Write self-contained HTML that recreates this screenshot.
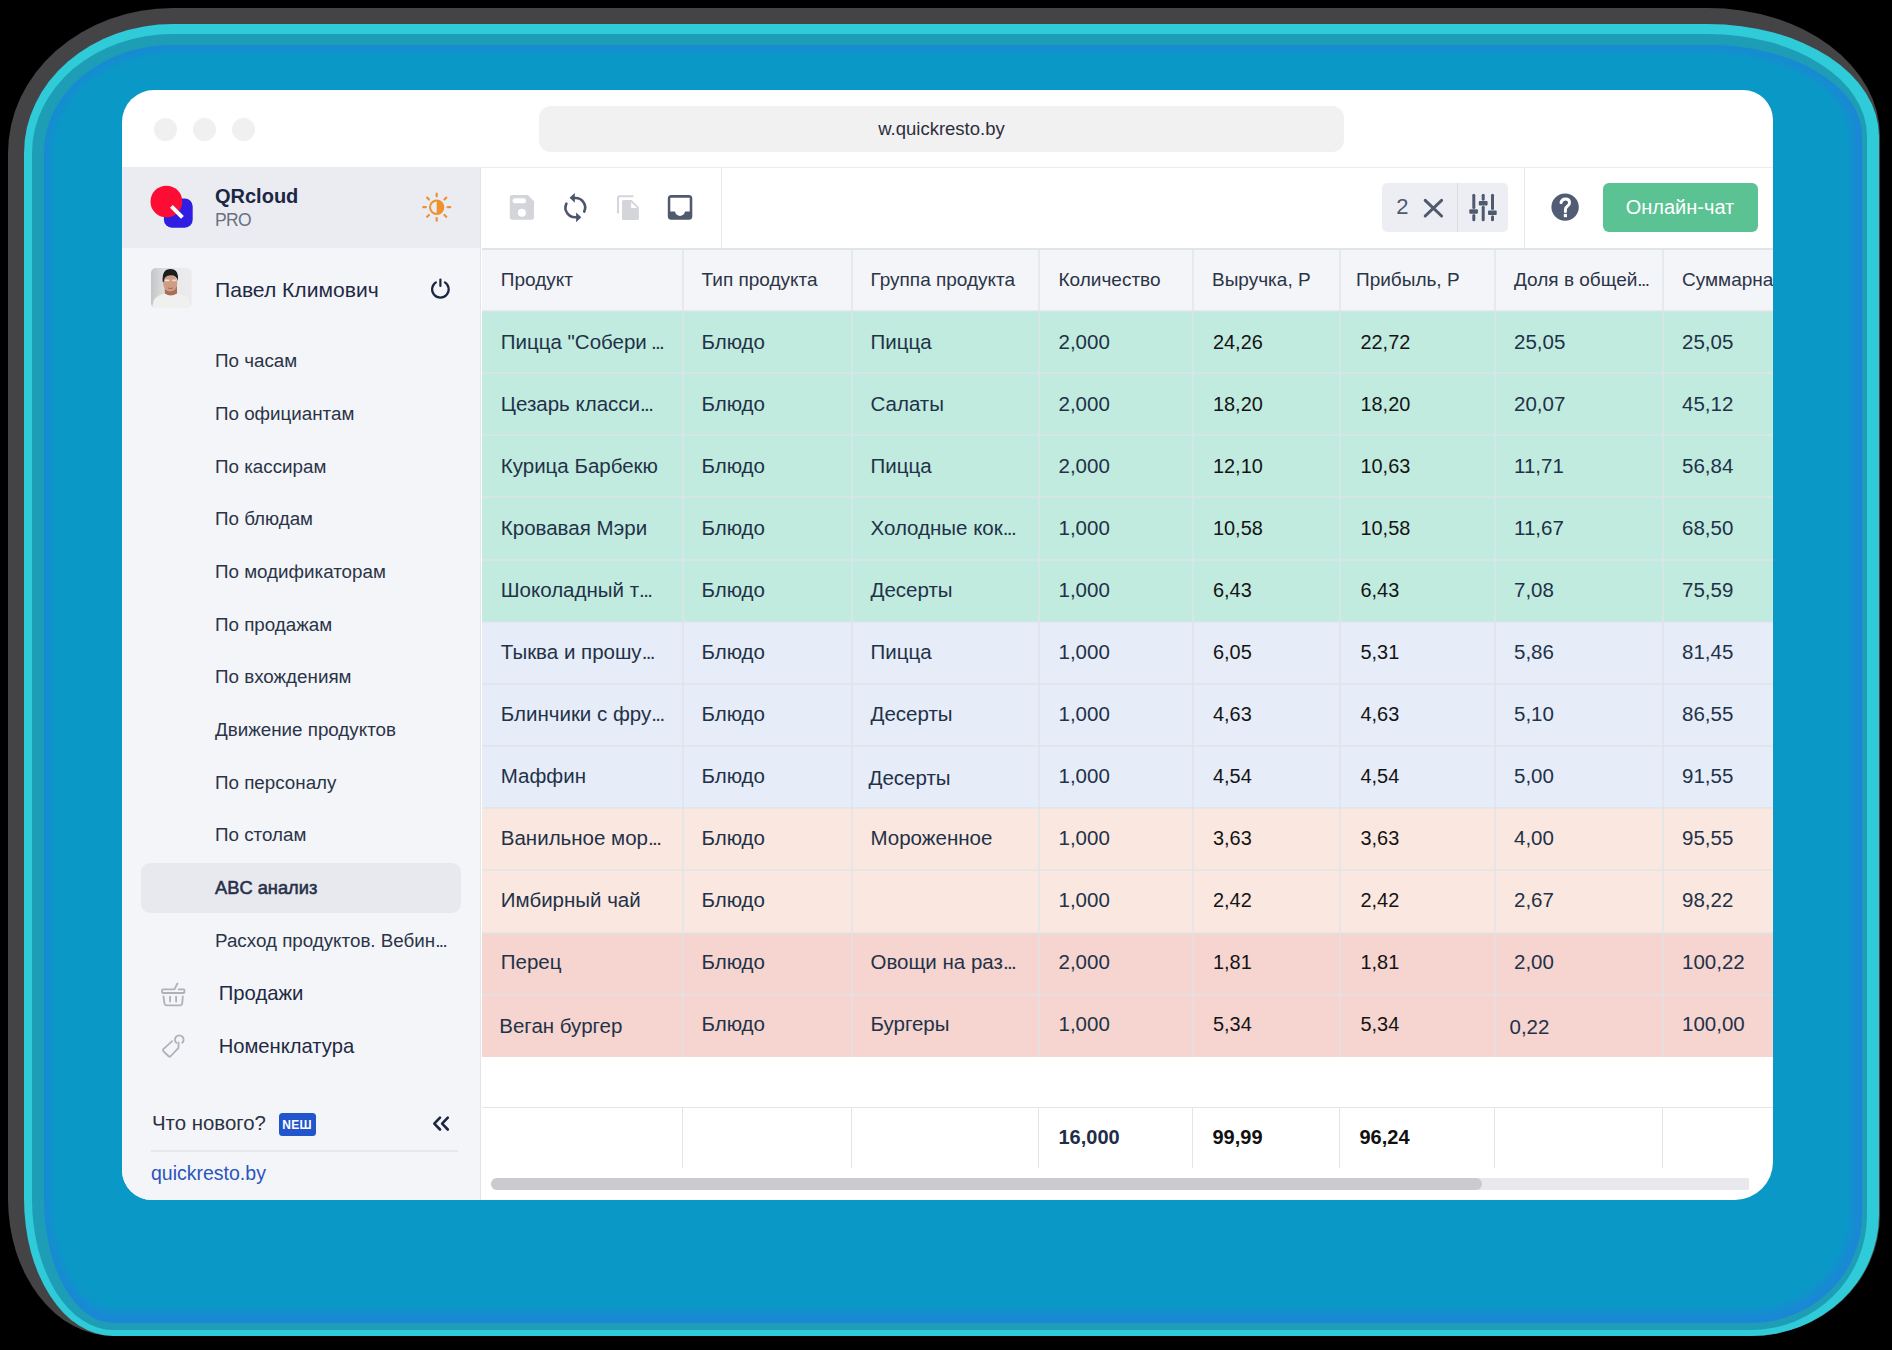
<!DOCTYPE html>
<html><head><meta charset="utf-8">
<style>
*{margin:0;padding:0;box-sizing:border-box}
html,body{width:1892px;height:1350px;background:#000;overflow:hidden}
body{font-family:"Liberation Sans",sans-serif;position:relative}
.abs{position:absolute}
#g1{position:absolute;left:8px;top:8px;width:1872px;height:1328px;border-radius:165px 172px 129px 105px / 145px 128px 121px 137px;background:#444447;}
#g2{position:absolute;left:24px;top:24px;width:1855px;height:1312px;border-radius:149px 171px 128px 89px / 129px 112px 121px 137px;background:#2fcbd8;}
#g3{position:absolute;left:32px;top:34px;width:1835px;height:1296px;border-radius:141px 159px 116px 81px / 119px 102px 115px 131px;background:#1e9eb6;}
#g4{position:absolute;left:44px;top:45px;width:1818px;height:1278px;border-radius:129px 154px 111px 69px / 108px 91px 108px 124px;background:#1b88d6;}
#g5{position:absolute;left:49px;top:50px;width:1803px;height:1262px;border-radius:124px 144px 101px 64px / 103px 86px 97px 113px;background:#0a98c6;filter:blur(4px);}

#win{position:absolute;left:122px;top:90px;width:1651px;height:1110px;border-radius:32px 30px 38px 30px;background:#fff;overflow:hidden}
.dot{position:absolute;width:23px;height:23px;border-radius:50%;background:#f0f0f1;top:27.5px}
#url{position:absolute;left:417px;top:15.5px;width:805px;height:46.5px;border-radius:12px;background:#f1f1f2;color:#2e2e3a;font-size:18.5px;text-align:center;line-height:46px}
#side{position:absolute;left:0;top:78px;width:359px;height:1032px;background:#f4f5f9}
#sidehead{position:absolute;left:0;top:0;width:359px;height:80px;background:#eaecf2}
.mi{position:absolute;left:93px;font-size:18.8px;color:#2a3448;white-space:nowrap;line-height:24px}
.t{position:absolute;white-space:nowrap}
.cell{position:absolute;font-size:20.5px;color:#1f3248;white-space:nowrap;line-height:62.15px}
.num2{color:#141414;font-size:19.9px}
.el{letter-spacing:-1.6px}
.hd{position:absolute;font-size:19px;color:#2b3447;white-space:nowrap;line-height:62px}
</style></head><body>
<div id="g1"></div><div id="g2"></div><div id="g3"></div><div id="g4"></div><div id="g5"></div>
<div id="win">

<div class="dot" style="left:32.2px"></div><div class="dot" style="left:70.8px"></div><div class="dot" style="left:109.7px"></div>
<div id="url">w.quickresto.by</div>
<div class="abs" style="left:0;top:77px;width:1651px;height:1px;background:#ececef"></div>
<div id="side"><div id="sidehead"></div>
<svg class="abs" style="left:26px;top:15px" width="48" height="48" viewBox="148 183 48 48">
<rect x="163.9" y="198.5" width="28.8" height="29.2" rx="8" fill="#2f1ee2"/>
<circle cx="166.4" cy="201.6" r="15.9" fill="#fd0c33"/>
<line x1="171.4" y1="206.4" x2="182.4" y2="217.4" stroke="#fff" stroke-width="4"/>
</svg>
<div class="t" style="left:93px;top:15px;font-size:20px;font-weight:700;color:#1b2744;line-height:26px">QRcloud</div>
<div class="t" style="left:93px;top:40px;font-size:17.5px;letter-spacing:-0.6px;color:#6b7080;line-height:24px">PRO</div>
<svg class="abs" style="left:299px;top:23px" width="32" height="32" viewBox="421 191 32 32">
<g stroke="#ec9236" stroke-width="2.2" stroke-linecap="round" fill="none"><line x1="447.60" y1="207.20" x2="450.20" y2="207.20"/><line x1="444.41" y1="214.91" x2="446.25" y2="216.75"/><line x1="436.70" y1="218.10" x2="436.70" y2="220.70"/><line x1="428.99" y1="214.91" x2="427.15" y2="216.75"/><line x1="425.80" y1="207.20" x2="423.20" y2="207.20"/><line x1="428.99" y1="199.49" x2="427.15" y2="197.65"/><line x1="436.70" y1="196.30" x2="436.70" y2="193.70"/><line x1="444.41" y1="199.49" x2="446.25" y2="197.65"/>
<circle cx="436.7" cy="207.2" r="6.7" stroke-width="2"/></g>
<path d="M436.7 200.5 A6.7 6.7 0 0 1 436.7 213.9 Z" fill="#f0922c"/>
</svg>
<svg class="abs" style="left:29.3px;top:100px" width="41" height="40" viewBox="0 0 41 40">
<defs><clipPath id="av"><rect x="0" y="0" width="40.7" height="40" rx="5"/></clipPath>
<linearGradient id="avbg" x1="0" x2="1"><stop offset="0" stop-color="#c4c5c8"/><stop offset="0.3" stop-color="#dcdcde"/><stop offset="0.6" stop-color="#e9e9eb"/><stop offset="1" stop-color="#ececee"/></linearGradient></defs>
<g clip-path="url(#av)">
<rect width="41" height="40" fill="url(#avbg)"/>
<path d="M1 40 L2.5 33 Q4.5 28 13 25.5 L26 25.5 Q35 27.5 38 31 L39.5 40 Z" fill="#f0f0ef"/>
<path d="M13.8 18 L13.8 25.5 Q19.5 29.5 26 25.5 L26 18 Z" fill="#a56f58"/>
<ellipse cx="19.2" cy="15.2" rx="7.1" ry="8.4" fill="#cf9d84"/>
<path d="M11.7 14 Q10.6 1.2 19.5 1.1 Q28.2 1.3 26.8 13 Q25.8 7.3 19.5 7.3 Q13.2 7.3 12.6 14 Z" fill="#1e1c1c"/>
<rect x="14" y="11.6" width="4.4" height="1.6" rx="0.6" fill="#f3f3f3" opacity="0.85"/>
<rect x="21" y="11.6" width="4.4" height="1.6" rx="0.6" fill="#f3f3f3" opacity="0.7"/>
<path d="M17 20 Q19.5 21 22 20" stroke="#9a5f4c" stroke-width="0.9" fill="none"/>
</g></svg>
<div class="t" style="left:93px;top:109px;font-size:21.1px;color:#1f2a44;line-height:26px">Павел Климович</div>
<svg class="abs" style="left:306px;top:109px" width="25" height="25" viewBox="428 277 25 25">
<g stroke="#1c2541" stroke-width="2.2" stroke-linecap="round" fill="none">
<path d="M435.9 282.4 A8.3 8.3 0 1 0 444.9 282.4"/>
<line x1="440.4" y1="279.6" x2="440.4" y2="286"/></g></svg>
<div class="mi" style="left:93px;top:181.32px">По часам</div>
<div class="mi" style="left:93px;top:233.98px">По официантам</div>
<div class="mi" style="left:93px;top:286.64px">По кассирам</div>
<div class="mi" style="left:93px;top:339.3px">По блюдам</div>
<div class="mi" style="left:93px;top:391.96px">По модификаторам</div>
<div class="mi" style="left:93px;top:444.62px">По продажам</div>
<div class="mi" style="left:93px;top:497.28px">По вхождениям</div>
<div class="mi" style="left:93px;top:549.94px">Движение продуктов</div>
<div class="mi" style="left:93px;top:602.6px">По персоналу</div>
<div class="mi" style="left:93px;top:655.26px">По столам</div>
<div class="abs" style="left:19px;top:695px;width:320px;height:50px;border-radius:9px;background:#e7e9ee"></div>
<div class="mi" style="left:93px;top:707.92px;font-size:18.3px;-webkit-text-stroke:0.55px #27314a;color:#27314a">ABC анализ</div>
<div class="mi" style="left:93px;top:760.58px">Расход продуктов. Вебин<span class="el">...</span></div>
<svg class="abs" style="left:36px;top:812px" width="30" height="30" viewBox="158 980 30 30">
<g stroke="#aeb1b8" stroke-width="1.8" fill="none" stroke-linecap="round" stroke-linejoin="round">
<path d="M178.6 989.4 L183.6 989.4 Q184.4 989.4 184.4 990.2 L184.4 992.2 Q184.4 993 183.6 993 L162.9 993 Q162.1 993 162.1 992.2 L162.1 990.2 Q162.1 989.4 162.9 989.4 L174.4 989.4 L177.4 983.5"/>
<path d="M163.5 996.5 L164.5 1003.6 Q164.8 1005.3 166.5 1005.3 L180.3 1005.3 Q182 1005.3 182.2 1003.6 L182.8 996.5"/>
<line x1="170.1" y1="996.6" x2="170.1" y2="1001.5"/><line x1="176.1" y1="996.6" x2="176.1" y2="1001.5"/>
</g></svg>
<div class="t" style="left:96.7px;top:812.39px;font-size:20.3px;color:#1f2a44;line-height:26px">Продажи</div>
<svg class="abs" style="left:36px;top:862px" width="30" height="32" viewBox="158 1030 30 32">
<g stroke="#aeb1b8" stroke-width="1.8" fill="none" stroke-linecap="round" stroke-linejoin="round">
<path d="M172.2 1041.2 L163.6 1048.8 Q162.3 1050 163.6 1051.3 L168.4 1056 Q169.6 1057.2 170.8 1056 L178.5 1047.8 L178.5 1042.5"/>
<path d="M176.4 1042.9 A4.3 4.3 0 1 1 182.2 1042.9"/>
</g></svg>
<div class="t" style="left:96.7px;top:865.39px;font-size:20.2px;color:#1f2a44;line-height:26px">Номенклатура</div>
<div class="t" style="left:30px;top:942.39px;font-size:20.4px;color:#2a3142;line-height:26px">Что нового?</div>
<div class="abs" style="left:156.5px;top:945px;width:37px;height:22.6px;border-radius:3.5px;background:#2255cc;color:#fff;font-weight:700;font-size:12px;line-height:25.5px;text-align:center;letter-spacing:0.2px">NEШ</div>
<svg class="abs" style="left:306px;top:944px" width="25" height="24" viewBox="428 1112 25 24">
<g stroke="#1c2541" stroke-width="2.6" fill="none" stroke-linecap="round" stroke-linejoin="round">
<polyline points="440,1117.7 434.3,1123.6 440,1129.5"/><polyline points="447.8,1117.7 442.1,1123.6 447.8,1129.5"/></g></svg>
<div class="abs" style="left:29px;top:981.5px;width:307px;height:2px;background:#e6e7eb"></div>
<div class="t" style="left:29px;top:991.56px;font-size:19.5px;color:#2b56b9;line-height:26px">quickresto.by</div>
</div>
<div class="abs" style="left:357.6px;top:78px;width:1.8px;height:1032px;background:#e2e4e8"></div>
<div class="abs" style="left:360px;top:158px;width:1300px;height:1.5px;background:#e2e4e8"></div>
<div class="abs" style="left:598.5px;top:78px;width:1.5px;height:80px;background:#e6e7ea"></div>
<div class="abs" style="left:1401.5px;top:78px;width:1.5px;height:80px;background:#e6e7ea"></div>
<svg class="abs" style="left:383px;top:100px" width="35" height="35" viewBox="505 190 35 35">
<path d="M512.3 195 L527.8 195 L534 201.2 L534 217.3 Q534 219.8 531.5 219.8 L512.3 219.8 Q509.8 219.8 509.8 217.3 L509.8 197.5 Q509.8 195 512.3 195 Z" fill="#d3d5da"/>
<rect x="512.6" y="198.2" width="13.4" height="5.1" rx="2.5" fill="#fff"/>
<circle cx="521.9" cy="212.8" r="4" fill="#fff"/></svg>
<svg class="abs" style="left:436px;top:99px" width="35" height="35" viewBox="558 189 35 35">
<g stroke="#4b556b" stroke-width="2.6" fill="none" stroke-linecap="round">
<path d="M574.5 198 A9.6 9.6 0 0 1 584.2 211.6"/>
<path d="M566.4 203.6 A9.6 9.6 0 0 0 576.3 217.2"/></g>
<path d="M569.6 197.8 L574.8 192.9 L574.8 202.7 Z" fill="#4b556b"/>
<path d="M581.3 217.3 L576.1 212.4 L576.1 222.2 Z" fill="#4b556b"/>
</svg>
<svg class="abs" style="left:489px;top:100px" width="35" height="35" viewBox="611 190 35 35">
<path d="M618 212.8 L618 198 Q618 196.2 619.8 196.2 L632.6 196.2" stroke="#d3d5da" stroke-width="2" fill="none" stroke-linecap="round"/>
<path d="M623.5 200.1 L631.6 200.1 L638.9 207.2 L638.9 218.6 Q638.9 220.1 637.4 220.1 L623.5 220.1 Q622 220.1 622 218.6 L622 201.6 Q622 200.1 623.5 200.1 Z" fill="#d3d5da"/>
<path d="M631.1 202.2 L631.1 208 L637.2 208 Z" fill="#fff"/>
</svg>
<svg class="abs" style="left:540px;top:100px" width="35" height="35" viewBox="662 190 35 35">
<path fill-rule="evenodd" fill="#4f5a6e" d="M671.3 194.9 L688.8 194.9 Q692.3 194.9 692.3 198.4 L692.3 216.2 Q692.3 219.7 688.8 219.7 L671.3 219.7 Q667.8 219.7 667.8 216.2 L667.8 198.4 Q667.8 194.9 671.3 194.9 Z
M670.3 197.7 L670.3 211.6 L674.9 211.6 Q676.2 215.9 680 215.9 Q683.8 215.9 685.1 211.6 L689.7 211.6 L689.7 197.7 Z"/>
</svg>
<div class="abs" style="left:1260px;top:92.6px;width:126px;height:49.2px;border-radius:5px;background:#eceef3"></div>
<div class="abs" style="left:1335.3px;top:92.6px;width:1px;height:49.2px;background:#d9dbe0"></div>
<div class="t" style="left:1274.3px;top:103.93px;font-size:22px;color:#4f5a6e;line-height:26px">2</div>
<svg class="abs" style="left:1298px;top:105px" width="27" height="26" viewBox="1420 195 27 26">
<g stroke="#4f5a6e" stroke-width="3" stroke-linecap="round"><line x1="1425.2" y1="200.3" x2="1441.6" y2="216"/><line x1="1441.6" y1="200.3" x2="1425.2" y2="216"/></g></svg>
<svg class="abs" style="left:1344px;top:100px" width="34" height="34" viewBox="1466 190 34 34">
<g stroke="#4f5a6e" stroke-width="3" stroke-linecap="round">
<line x1="1473.8" y1="195.2" x2="1473.8" y2="207.5"/><line x1="1473.8" y1="215.6" x2="1473.8" y2="219.7"/>
<line x1="1483.2" y1="195.2" x2="1483.2" y2="199.2"/><line x1="1483.2" y1="207.3" x2="1483.2" y2="219.7"/>
<line x1="1492.5" y1="195.2" x2="1492.5" y2="208.6"/><line x1="1492.5" y1="216.8" x2="1492.5" y2="219.7"/>
</g>
<rect x="1469.3" y="209.3" width="8.6" height="4.4" rx="1" fill="#4f5a6e"/>
<rect x="1478.8" y="201" width="8.8" height="4.4" rx="1" fill="#4f5a6e"/>
<rect x="1488" y="210.5" width="8.7" height="4.4" rx="1" fill="#4f5a6e"/>
</svg>
<svg class="abs" style="left:1428px;top:102px" width="30" height="30" viewBox="1550 192 30 30">
<circle cx="1565.1" cy="207.1" r="13.7" fill="#525c74"/>
<path d="M1561 202.6 Q1561.8 198.9 1565.4 198.9 Q1569.5 198.9 1569.5 202.7 Q1569.6 204.8 1567.3 206.3 Q1565.4 207.6 1565.4 209.8 L1565.4 211.4" stroke="#fff" stroke-width="3" fill="none" stroke-linecap="round"/>
<rect x="1563.8" y="213.9" width="3.2" height="3.3" fill="#fff"/>
</svg>
<div class="abs" style="left:1480.5px;top:92.6px;width:155px;height:49.2px;border-radius:6px;background:#5bc393;color:#fff;font-size:20px;text-align:center;line-height:49px">Онлайн-чат</div>
<div class="abs" style="left:360px;top:159.5px;width:1300px;height:61.5px;background:#f4f5f9"></div>
<div class="hd" style="left:378.8px;top:159px">Продукт</div>
<div class="hd" style="left:579.5px;top:159px">Тип продукта</div>
<div class="hd" style="left:748.5px;top:159px">Группа продукта</div>
<div class="hd" style="left:936.5px;top:159px">Количество</div>
<div class="hd" style="left:1090px;top:159px">Выручка, Р</div>
<div class="hd" style="left:1234px;top:159px">Прибыль, Р</div>
<div class="hd" style="left:1392px;top:159px">Доля в общей<span class="el">...</span></div>
<div class="hd" style="left:1560px;top:159px">Суммарная доля</div>
<div class="abs" style="left:360px;top:221.0px;width:1300px;height:62.65px;background:#c1ebdf"></div>
<div class="abs" style="left:360px;top:283.15px;width:1300px;height:62.65px;background:#c1ebdf"></div>
<div class="abs" style="left:360px;top:345.3px;width:1300px;height:62.65px;background:#c1ebdf"></div>
<div class="abs" style="left:360px;top:407.45px;width:1300px;height:62.65px;background:#c1ebdf"></div>
<div class="abs" style="left:360px;top:469.6px;width:1300px;height:62.65px;background:#c1ebdf"></div>
<div class="abs" style="left:360px;top:531.75px;width:1300px;height:62.65px;background:#e6ecf8"></div>
<div class="abs" style="left:360px;top:593.9px;width:1300px;height:62.65px;background:#e6ecf8"></div>
<div class="abs" style="left:360px;top:656.05px;width:1300px;height:62.65px;background:#e6ecf8"></div>
<div class="abs" style="left:360px;top:718.2px;width:1300px;height:62.65px;background:#fae7e0"></div>
<div class="abs" style="left:360px;top:780.35px;width:1300px;height:62.65px;background:#fae7e0"></div>
<div class="abs" style="left:360px;top:842.5px;width:1300px;height:62.65px;background:#f6d4cf"></div>
<div class="abs" style="left:360px;top:904.65px;width:1300px;height:62.65px;background:#f6d4cf"></div>
<div class="cell" style="left:378.8px;top:221.0px">Пицца "Собери<span class="el"> ...</span></div>
<div class="cell" style="left:579.5px;top:221.0px">Блюдо</div>
<div class="cell" style="left:748.5px;top:221.0px">Пицца</div>
<div class="cell" style="left:936.5px;top:221.0px">2,000</div>
<div class="cell num2" style="left:1091px;top:221.0px">24,26</div>
<div class="cell num2" style="left:1238.5px;top:221.0px">22,72</div>
<div class="cell" style="left:1392px;top:221.0px">25,05</div>
<div class="cell" style="left:1560px;top:221.0px">25,05</div>
<div class="cell" style="left:378.8px;top:283.04px">Цезарь класси<span class="el">...</span></div>
<div class="cell" style="left:579.5px;top:283.04px">Блюдо</div>
<div class="cell" style="left:748.5px;top:283.04px">Салаты</div>
<div class="cell" style="left:936.5px;top:283.04px">2,000</div>
<div class="cell num2" style="left:1091px;top:283.04px">18,20</div>
<div class="cell num2" style="left:1238.5px;top:283.04px">18,20</div>
<div class="cell" style="left:1392px;top:283.04px">20,07</div>
<div class="cell" style="left:1560px;top:283.04px">45,12</div>
<div class="cell" style="left:378.8px;top:345.08px">Курица Барбекю</div>
<div class="cell" style="left:579.5px;top:345.08px">Блюдо</div>
<div class="cell" style="left:748.5px;top:345.08px">Пицца</div>
<div class="cell" style="left:936.5px;top:345.08px">2,000</div>
<div class="cell num2" style="left:1091px;top:345.08px">12,10</div>
<div class="cell num2" style="left:1238.5px;top:345.08px">10,63</div>
<div class="cell" style="left:1392px;top:345.08px">11,71</div>
<div class="cell" style="left:1560px;top:345.08px">56,84</div>
<div class="cell" style="left:378.8px;top:407.12px">Кровавая Мэри</div>
<div class="cell" style="left:579.5px;top:407.12px">Блюдо</div>
<div class="cell" style="left:748.5px;top:407.12px">Холодные кок<span class="el">...</span></div>
<div class="cell" style="left:936.5px;top:407.12px">1,000</div>
<div class="cell num2" style="left:1091px;top:407.12px">10,58</div>
<div class="cell num2" style="left:1238.5px;top:407.12px">10,58</div>
<div class="cell" style="left:1392px;top:407.12px">11,67</div>
<div class="cell" style="left:1560px;top:407.12px">68,50</div>
<div class="cell" style="left:378.8px;top:469.16px">Шоколадный т<span class="el">...</span></div>
<div class="cell" style="left:579.5px;top:469.16px">Блюдо</div>
<div class="cell" style="left:748.5px;top:469.16px">Десерты</div>
<div class="cell" style="left:936.5px;top:469.16px">1,000</div>
<div class="cell num2" style="left:1091px;top:469.16px">6,43</div>
<div class="cell num2" style="left:1238.5px;top:469.16px">6,43</div>
<div class="cell" style="left:1392px;top:469.16px">7,08</div>
<div class="cell" style="left:1560px;top:469.16px">75,59</div>
<div class="cell" style="left:378.8px;top:531.2px">Тыква и прошу<span class="el">...</span></div>
<div class="cell" style="left:579.5px;top:531.2px">Блюдо</div>
<div class="cell" style="left:748.5px;top:531.2px">Пицца</div>
<div class="cell" style="left:936.5px;top:531.2px">1,000</div>
<div class="cell num2" style="left:1091px;top:531.2px">6,05</div>
<div class="cell num2" style="left:1238.5px;top:531.2px">5,31</div>
<div class="cell" style="left:1392px;top:531.2px">5,86</div>
<div class="cell" style="left:1560px;top:531.2px">81,45</div>
<div class="cell" style="left:378.8px;top:593.24px">Блинчики с фру<span class="el">...</span></div>
<div class="cell" style="left:579.5px;top:593.24px">Блюдо</div>
<div class="cell" style="left:748.5px;top:593.24px">Десерты</div>
<div class="cell" style="left:936.5px;top:593.24px">1,000</div>
<div class="cell num2" style="left:1091px;top:593.24px">4,63</div>
<div class="cell num2" style="left:1238.5px;top:593.24px">4,63</div>
<div class="cell" style="left:1392px;top:593.24px">5,10</div>
<div class="cell" style="left:1560px;top:593.24px">86,55</div>
<div class="cell" style="left:378.8px;top:655.28px">Маффин</div>
<div class="cell" style="left:579.5px;top:655.28px">Блюдо</div>
<div class="cell" style="left:746.5px;top:657.28px">Десерты</div>
<div class="cell" style="left:936.5px;top:655.28px">1,000</div>
<div class="cell num2" style="left:1091px;top:655.28px">4,54</div>
<div class="cell num2" style="left:1238.5px;top:655.28px">4,54</div>
<div class="cell" style="left:1392px;top:655.28px">5,00</div>
<div class="cell" style="left:1560px;top:655.28px">91,55</div>
<div class="cell" style="left:378.8px;top:717.32px">Ванильное мор<span class="el">...</span></div>
<div class="cell" style="left:579.5px;top:717.32px">Блюдо</div>
<div class="cell" style="left:748.5px;top:717.32px">Мороженное</div>
<div class="cell" style="left:936.5px;top:717.32px">1,000</div>
<div class="cell num2" style="left:1091px;top:717.32px">3,63</div>
<div class="cell num2" style="left:1238.5px;top:717.32px">3,63</div>
<div class="cell" style="left:1392px;top:717.32px">4,00</div>
<div class="cell" style="left:1560px;top:717.32px">95,55</div>
<div class="cell" style="left:378.8px;top:779.36px">Имбирный чай</div>
<div class="cell" style="left:579.5px;top:779.36px">Блюдо</div>
<div class="cell" style="left:748.5px;top:779.36px"></div>
<div class="cell" style="left:936.5px;top:779.36px">1,000</div>
<div class="cell num2" style="left:1091px;top:779.36px">2,42</div>
<div class="cell num2" style="left:1238.5px;top:779.36px">2,42</div>
<div class="cell" style="left:1392px;top:779.36px">2,67</div>
<div class="cell" style="left:1560px;top:779.36px">98,22</div>
<div class="cell" style="left:378.8px;top:841.4px">Перец</div>
<div class="cell" style="left:579.5px;top:841.4px">Блюдо</div>
<div class="cell" style="left:748.5px;top:841.4px">Овощи на раз<span class="el">...</span></div>
<div class="cell" style="left:936.5px;top:841.4px">2,000</div>
<div class="cell num2" style="left:1091px;top:841.4px">1,81</div>
<div class="cell num2" style="left:1238.5px;top:841.4px">1,81</div>
<div class="cell" style="left:1392px;top:841.4px">2,00</div>
<div class="cell" style="left:1560px;top:841.4px">100,22</div>
<div class="cell" style="left:377.3px;top:905.44px">Веган бургер</div>
<div class="cell" style="left:579.5px;top:903.44px">Блюдо</div>
<div class="cell" style="left:748.5px;top:903.44px">Бургеры</div>
<div class="cell" style="left:936.5px;top:903.44px">1,000</div>
<div class="cell num2" style="left:1091px;top:903.44px">5,34</div>
<div class="cell num2" style="left:1238.5px;top:903.44px">5,34</div>
<div class="cell" style="left:1387.5px;top:905.94px">0,22</div>
<div class="cell" style="left:1560px;top:903.44px">100,00</div>
<div class="abs" style="left:360px;top:220.0px;width:1300px;height:2px;background:rgba(222,228,232,0.65)"></div>
<div class="abs" style="left:360px;top:282.15px;width:1300px;height:2px;background:rgba(222,228,232,0.65)"></div>
<div class="abs" style="left:360px;top:344.3px;width:1300px;height:2px;background:rgba(222,228,232,0.65)"></div>
<div class="abs" style="left:360px;top:406.45px;width:1300px;height:2px;background:rgba(222,228,232,0.65)"></div>
<div class="abs" style="left:360px;top:468.6px;width:1300px;height:2px;background:rgba(222,228,232,0.65)"></div>
<div class="abs" style="left:360px;top:530.75px;width:1300px;height:2px;background:rgba(222,228,232,0.65)"></div>
<div class="abs" style="left:360px;top:592.9px;width:1300px;height:2px;background:rgba(222,228,232,0.65)"></div>
<div class="abs" style="left:360px;top:655.05px;width:1300px;height:2px;background:rgba(222,228,232,0.65)"></div>
<div class="abs" style="left:360px;top:717.2px;width:1300px;height:2px;background:rgba(222,228,232,0.65)"></div>
<div class="abs" style="left:360px;top:779.35px;width:1300px;height:2px;background:rgba(222,228,232,0.65)"></div>
<div class="abs" style="left:360px;top:841.5px;width:1300px;height:2px;background:rgba(222,228,232,0.65)"></div>
<div class="abs" style="left:360px;top:903.65px;width:1300px;height:2px;background:rgba(222,228,232,0.65)"></div>
<div class="abs" style="left:559.5px;top:159px;width:2px;height:807.5px;background:rgba(222,228,232,0.65)"></div>
<div class="abs" style="left:728.5px;top:159px;width:2px;height:807.5px;background:rgba(222,228,232,0.65)"></div>
<div class="abs" style="left:915.5px;top:159px;width:2px;height:807.5px;background:rgba(222,228,232,0.65)"></div>
<div class="abs" style="left:1069.5px;top:159px;width:2px;height:807.5px;background:rgba(222,228,232,0.65)"></div>
<div class="abs" style="left:1216.5px;top:159px;width:2px;height:807.5px;background:rgba(222,228,232,0.65)"></div>
<div class="abs" style="left:1371.5px;top:159px;width:2px;height:807.5px;background:rgba(222,228,232,0.65)"></div>
<div class="abs" style="left:1539.5px;top:159px;width:2px;height:807.5px;background:rgba(222,228,232,0.65)"></div>
<div class="abs" style="left:360px;top:1016.5px;width:1300px;height:1.5px;background:#e4e5e8"></div>
<div class="abs" style="left:559.75px;top:1017px;width:1.5px;height:61px;background:#e4e5e8"></div>
<div class="abs" style="left:728.75px;top:1017px;width:1.5px;height:61px;background:#e4e5e8"></div>
<div class="abs" style="left:915.75px;top:1017px;width:1.5px;height:61px;background:#e4e5e8"></div>
<div class="abs" style="left:1069.75px;top:1017px;width:1.5px;height:61px;background:#e4e5e8"></div>
<div class="abs" style="left:1216.75px;top:1017px;width:1.5px;height:61px;background:#e4e5e8"></div>
<div class="abs" style="left:1371.75px;top:1017px;width:1.5px;height:61px;background:#e4e5e8"></div>
<div class="abs" style="left:1539.75px;top:1017px;width:1.5px;height:61px;background:#e4e5e8"></div>
<div class="cell" style="left:936.5px;top:1016px;font-size:20px;font-weight:700;color:#1f2e48">16,000</div>
<div class="cell" style="left:1090.5px;top:1016px;font-size:20px;font-weight:700;color:#111">99,99</div>
<div class="cell" style="left:1237.5px;top:1016px;font-size:20px;font-weight:700;color:#111">96,24</div>
<div class="abs" style="left:369px;top:1088px;width:1258px;height:12px;border-radius:6px 0 0 6px;background:#e8e9ec"></div>
<div class="abs" style="left:369px;top:1088px;width:991px;height:12px;border-radius:6px;background:#c9cbd1"></div>
</div></body></html>
